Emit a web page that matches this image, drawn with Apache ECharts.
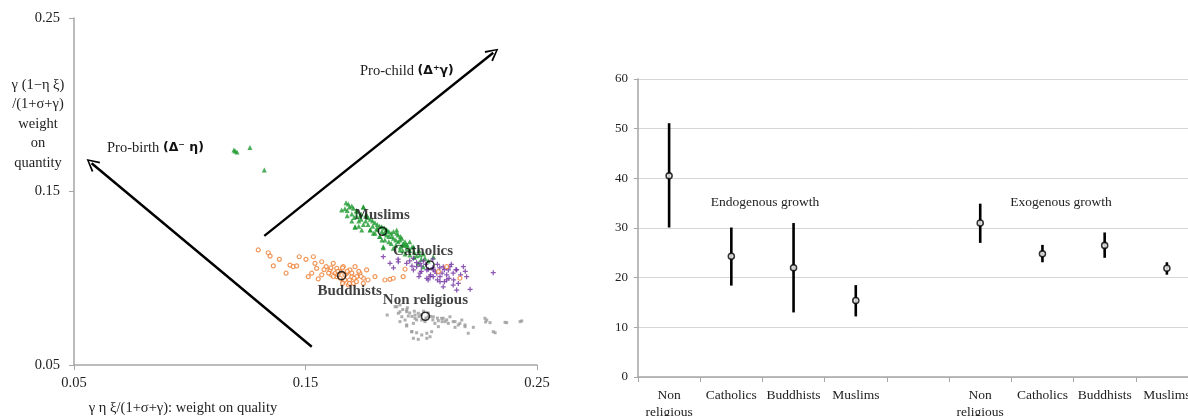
<!DOCTYPE html>
<html><head><meta charset="utf-8">
<script src="https://cdn.jsdelivr.net/npm/echarts@6/dist/echarts.min.js"></script>
<style>html,body{margin:0;padding:0;background:#fff}#c{width:1188px;height:416px}</style>
</head><body><div id="c"></div>
<script>
// ---------- Left panel data ----------
const xTicksLeft = [0.05, 0.15, 0.25];
const muslimsPts = [[0.1191,0.1739],[0.1204,0.1728],[0.1196,0.1733],[0.1260,0.1754],[0.1322,0.1624],
 [0.1675,0.1435],[0.1685,0.1428],[0.1700,0.1416],[0.1656,0.1393],[0.1707,0.1403],[0.1721,0.1384],[0.1750,0.1409],
 [0.1735,0.1355],[0.1764,0.1365],[0.1714,0.1297],[0.1743,0.1278],[0.1779,0.1278],[0.1808,0.1288],[0.1829,0.1297],
 [0.1851,0.1278],[0.1793,0.1259],[0.1822,0.1240],[0.1843,0.1220],[0.1872,0.1240],[0.1894,0.1259],[0.1908,0.1220],
 [0.1922,0.1201],[0.1937,0.1192],[0.1966,0.1182],[0.1836,0.1182],[0.1879,0.1173],[0.1908,0.1163],[0.1951,0.1134],
 [0.1995,0.1134],[0.2016,0.1115],[0.2052,0.1124],[0.1987,0.1086],[0.2009,0.1067],[0.1750,0.1412],[0.1714,0.1294],
 [0.1836,0.1176],[0.1894,0.1278],[0.1916,0.1230],[0.1930,0.1192],
 [0.168,0.139],[0.170,0.137],[0.172,0.136],[0.174,0.134],[0.176,0.133],[0.177,0.131],[0.179,0.130],[0.181,0.128],
 [0.183,0.127],[0.184,0.126],[0.185,0.125],[0.186,0.124],[0.188,0.123],[0.189,0.122],[0.190,0.121],[0.192,0.119],
 [0.194,0.117],[0.195,0.116],[0.197,0.115],[0.198,0.113],[0.180,0.126],[0.182,0.124],[0.178,0.128],[0.175,0.131],
 [0.173,0.133],[0.171,0.135],[0.187,0.126],[0.189,0.119],[0.191,0.124],[0.193,0.121],[0.196,0.118],[0.186,0.121],
 [0.184,0.129],[0.179,0.133],[0.176,0.136],[0.169,0.141],[0.167,0.140],[0.172,0.139],[0.178,0.134],[0.181,0.131],
 [0.185,0.128],[0.188,0.127],[0.191,0.118],[0.194,0.119],[0.199,0.116],[0.200,0.111],[0.203,0.110],
 [0.174,0.137],[0.177,0.135],[0.180,0.132],[0.182,0.130],[0.183,0.122],[0.187,0.120],[0.190,0.125],[0.192,0.116],
 [0.195,0.121],[0.197,0.112],[0.201,0.114],[0.170,0.133],[0.168,0.136],[0.173,0.130],[0.186,0.127],[0.193,0.114]];
const catholicsPts = [[0.1836,0.1124],[0.1865,0.1086],[0.1901,0.1095],[0.1937,0.1086],[0.1966,0.1115],[0.1980,0.1067],
 [0.1995,0.1086],[0.2024,0.1048],[0.2052,0.1048],[0.2067,0.1029],[0.2081,0.1009],[0.2052,0.1009],[0.2095,0.1067],
 [0.2117,0.1048],[0.2138,0.1029],[0.2124,0.1067],[0.2153,0.1048],[0.2182,0.1067],[0.2196,0.1009],[0.2138,0.0961],
 [0.2153,0.0932],[0.2211,0.0936],[0.2110,0.0990],[0.2081,0.0980],[0.2038,0.1009],[0.2024,0.1000],[0.1995,0.1029],
 [0.1966,0.1048],[0.2095,0.0951],[0.2311,0.1032],
 [0.200,0.107],[0.202,0.108],[0.205,0.106],[0.207,0.108],[0.203,0.105],[0.206,0.104],[0.209,0.103],[0.211,0.102],
 [0.201,0.110],[0.198,0.109],[0.204,0.102],[0.208,0.106],[0.212,0.100],[0.214,0.099],[0.210,0.105],[0.196,0.107],
 [0.195,0.110],[0.217,0.102],[0.219,0.104],[0.190,0.111],[0.188,0.106],[0.200,0.104],[0.207,0.099],[0.216,0.097],
 [0.213,0.108],[0.205,0.111],[0.203,0.099],[0.199,0.101],[0.210,0.098],[0.215,0.105]];
const buddhistsPts = [[0.1296,0.1163],[0.1339,0.1147],[0.1347,0.1128],[0.1361,0.1071],[0.1387,0.1109],[0.1416,0.1029],
 [0.1433,0.1076],[0.1447,0.1067],[0.1462,0.1071],[0.1473,0.1124],[0.1502,0.1109],[0.1534,0.1124],[0.1541,0.1086],
 [0.1548,0.1057],[0.1527,0.1029],[0.1570,0.1095],[0.1589,0.1067],[0.1606,0.1048],[0.1620,0.1086],[0.1635,0.1057],
 [0.1649,0.1038],[0.1663,0.1067],[0.1678,0.1029],[0.1692,0.1048],[0.1700,0.1009],[0.1714,0.1067],[0.1721,0.1009],
 [0.1735,0.1029],[0.1750,0.1000],[0.1764,0.1048],[0.1635,0.1009],[0.1613,0.1019],[0.1663,0.0980],[0.1685,0.0961],
 [0.1707,0.0971],[0.1800,0.1009],[0.1843,0.0990],[0.1865,0.0994],[0.1879,0.1000],[0.1922,0.1009],[0.1930,0.1052],
 [0.2110,0.1067],[0.2167,0.1000],[0.1555,0.0996],[0.1512,0.1009],[0.2074,0.1038],
 [0.163,0.103],[0.165,0.100],[0.167,0.102],[0.169,0.099],[0.171,0.100],[0.164,0.104],[0.162,0.101],[0.166,0.097],
 [0.168,0.104],[0.172,0.098],[0.174,0.101],[0.160,0.103],[0.158,0.105],[0.170,0.103],[0.175,0.097],[0.177,0.099],
 [0.161,0.106],[0.157,0.102],[0.166,0.106],[0.173,0.104],[0.167,0.099],[0.169,0.097],[0.164,0.102]];
const nonReligiousPts = [[0.1853,0.0788],[0.1937,0.0725],[0.1959,0.0692],[0.1980,0.0686],[0.2002,0.0673],[0.2024,0.0683],
 [0.2045,0.0692],[0.2074,0.0721],[0.2117,0.0740],[0.2146,0.0750],[0.2175,0.0759],[0.2189,0.0731],[0.2203,0.0683],
 [0.2225,0.0717],[0.2275,0.0769],[0.2278,0.0748],[0.2319,0.0686],[0.2362,0.0746],[0.2427,0.0750],[0.2124,0.0778],
 [0.2088,0.0769],[0.2059,0.0740],[0.1966,0.0740],[0.1930,0.0759],[0.1901,0.0798],[0.1916,0.0778],[0.1944,0.0782],
 [0.1973,0.0769],[0.2002,0.0759],[0.2030,0.0778],[0.1887,0.0836],[0.1908,0.0846],[0.1937,0.0817],[0.1987,0.0798],
 [0.2016,0.0750],[0.2074,0.0755],[0.2103,0.0750],[0.2160,0.0731],[0.2146,0.0717],[0.2283,0.0759],[0.2297,0.0744],
 [0.2369,0.0744],[0.2434,0.0754],[0.2311,0.0692],[0.1966,0.0654],[0.1987,0.0648],[0.2024,0.0654],[0.2038,0.0663],
 [0.1959,0.0692],[0.1894,0.0836],[0.1908,0.0807],[0.1937,0.0807],[0.1973,0.0788],[0.2052,0.0778],[0.2095,0.0769],
 [0.2138,0.0750],[0.2167,0.0740],[0.2189,0.0721],[0.1937,0.0731],[0.1908,0.0750],
 [0.200,0.079],[0.202,0.077],[0.199,0.078],[0.203,0.080],[0.205,0.076],[0.197,0.081],[0.195,0.080],[0.201,0.081],
 [0.204,0.078],[0.207,0.077],[0.196,0.078],[0.198,0.076],[0.192,0.082],[0.194,0.083],[0.209,0.075],[0.211,0.076]];
const centerNames = ['Muslims','Catholics','Buddhists','Non religious'];
const centerX = [0.1832, 0.2038, 0.1656, 0.2018];
const centerY = [0.1271, 0.1076, 0.1015, 0.0781];
const arrowProBirth = [[0.1527,0.0605],[0.0576,0.1663]];
const arrowProChild = [[0.1322,0.1244],[0.2311,0.2300]];

// ---------- Right panel data ----------
const growthCats = ['Non\nreligious','Catholics','Buddhists','Muslims','','Non\nreligious','Catholics','Buddhists','Muslims'];
const endoMid = [40.5, 24.3, 22.0, 15.4];
const endoLow = [30.1, 18.4, 13.0, 12.2];
const endoHigh = [51.1, 30.1, 31.0, 18.5];
const exoMid = [31.0, 24.8, 26.5, 21.9];
const exoLow = [27.0, 23.1, 24.0, 20.6];
const exoHigh = [34.9, 26.6, 29.1, 23.1];

const SERIF = '"Liberation Serif","DejaVu Serif",serif';
const endoIdx = [0,1,2,3], exoIdx = [5,6,7,8];
const errData = [], midData = [];
endoIdx.forEach((c,i)=>{errData.push([c,endoLow[i],endoHigh[i]]); midData.push([c,endoMid[i]]);});
exoIdx.forEach((c,i)=>{errData.push([c,exoLow[i],exoHigh[i]]); midData.push([c,exoMid[i]]);});

const chart = echarts.init(document.getElementById('c'), null, {renderer:'canvas'});
const axisGray = '#a6a6a6';
const labelStyle = {color:'#222', fontFamily:SERIF, fontSize:14.5};
const small = (sym,size,extra)=>Object.assign({type:'scatter', xAxisIndex:0, yAxisIndex:0, symbol:sym, symbolSize:size, silent:true, z:2}, extra||{});
const chevron = 'path://M0,10 L5,0 L10,10 L8.8,10.8 L5,2.6 L1.2,10.8 Z';
const labelPos = [
  {position:'top', offset:[0,0]},
  {position:'top', offset:[-7,2]},
  {position:'bottom', offset:[8,-1]},
  {position:'top', offset:[0,0]}
];

chart.setOption({
  animation:false,
  grid:[{left:74, top:18, width:463, height:347, containLabel:false, outerBoundsMode:'none'},
        {left:638, top:79, width:560, height:298, containLabel:false, outerBoundsMode:'none'}],
  xAxis:[
    {type:'value', gridIndex:0, min:0.05, max:0.25, interval:0.1, splitLine:{show:false},
     axisLine:{lineStyle:{color:axisGray, width:1.5}}, axisTick:{show:true, length:5, lineStyle:{color:axisGray}},
     axisLabel:Object.assign({formatter:v=>v.toFixed(2), margin:11}, labelStyle)},
    {type:'category', gridIndex:1, data:growthCats, boundaryGap:true,
     axisLine:{lineStyle:{color:axisGray, width:1.5}}, axisTick:{show:true, length:5, interval:0, lineStyle:{color:axisGray}},
     axisLabel:Object.assign({interval:0, margin:10, lineHeight:17}, labelStyle, {fontSize:13.5})}
  ],
  yAxis:[
    {type:'value', gridIndex:0, min:0.05, max:0.25, interval:0.1, splitLine:{show:false},
     axisLine:{show:true, lineStyle:{color:axisGray, width:1.5}}, axisTick:{show:true, length:5, lineStyle:{color:axisGray}},
     axisLabel:Object.assign({formatter:v=>v.toFixed(2), margin:14}, labelStyle)},
    {type:'value', gridIndex:1, min:0, max:60, interval:10,
     splitLine:{show:true, lineStyle:{color:'#d6d6d6', width:1}},
     axisLine:{show:true, lineStyle:{color:axisGray, width:1.5}}, axisTick:{show:true, length:4, lineStyle:{color:axisGray}},
     axisLabel:Object.assign({margin:10}, labelStyle, {fontSize:13})}
  ],
  series:[
    small('path://M0,10 L5,0 L10,10 Z', 5, {name:'Muslims', data:muslimsPts, itemStyle:{color:'#1e9a2f'}}),
    small('path://M3,0H5V3H8V5H5V8H3V5H0V3H3Z', 5, {name:'Catholics', data:catholicsPts, itemStyle:{color:'#7030a0'}}),
    small('circle', 4, {name:'Buddhists', data:buddhistsPts, itemStyle:{color:'#fff', borderColor:'#ed7d31', borderWidth:1.2}}),
    small('rect', 3, {name:'Non religious', data:nonReligiousPts, itemStyle:{color:'#9a9a9a'}}),
    {type:'scatter', xAxisIndex:0, yAxisIndex:0, symbol:'circle', symbolSize:8, z:5, silent:true,
     itemStyle:{color:'rgba(255,255,255,0)', borderColor:'#000', borderWidth:1.6},
     data:centerNames.map((n,i)=>({value:[centerX[i],centerY[i]], name:n, label:labelPos[i]})),
     label:{show:true, formatter:p=>p.name, fontFamily:SERIF, fontWeight:'bold', fontSize:15, color:'#111', distance:4}
    },
    {type:'lines', coordinateSystem:'cartesian2d', xAxisIndex:0, yAxisIndex:0, z:6, silent:true,
     symbol:['none', chevron], symbolSize:[13,13],
     lineStyle:{color:'#000', width:2.4, opacity:1},
     data:[{coords:arrowProBirth},{coords:arrowProChild}]},
    {type:'custom', xAxisIndex:1, yAxisIndex:1, silent:true, z:3,
     renderItem:(params, api)=>{
       const a = api.coord([api.value(0), api.value(1)]);
       const b = api.coord([api.value(0), api.value(2)]);
       return {type:'line', shape:{x1:a[0], y1:a[1], x2:b[0], y2:b[1]}, style:{stroke:'#000', lineWidth:2.6}};
     },
     encode:{x:0, y:[1,2]}, data:errData},
    {type:'scatter', xAxisIndex:1, yAxisIndex:1, symbol:'circle', symbolSize:6, z:4, silent:true,
     itemStyle:{color:'#fff', borderColor:'#000', borderWidth:1.6}, data:midData}
  ],
  graphic:[
    {type:'text', position:[38,124], style:{text:'γ (1−η ξ)\n/(1+σ+γ)\nweight\non\nquantity',
      align:'center', verticalAlign:'middle', font:'14.5px '+SERIF, fill:'#222', lineHeight:19.5}},
    {type:'text', position:[183,408], style:{text:'γ η ξ/(1+σ+γ): weight on quality', align:'center', verticalAlign:'middle',
      font:'14.5px '+SERIF, fill:'#222'}},
    {type:'text', position:[107,148], style:{text:'{n|Pro-birth }{b|(Δ⁻ η)}', verticalAlign:'middle',
      rich:{n:{fontFamily:SERIF, fontSize:14.5, fill:'#222'}, b:{fontFamily:'"DejaVu Sans",sans-serif', fontWeight:'bold', fontSize:12.5, fill:'#111'}}}},
    {type:'text', position:[360,71], style:{text:'{n|Pro-child }{b|(Δ⁺γ)}', verticalAlign:'middle',
      rich:{n:{fontFamily:SERIF, fontSize:14.5, fill:'#222'}, b:{fontFamily:'"DejaVu Sans",sans-serif', fontWeight:'bold', fontSize:12.5, fill:'#111'}}}},
    {type:'text', position:[765,202], style:{text:'Endogenous growth', align:'center', verticalAlign:'middle', font:'13.5px '+SERIF, fill:'#222'}},
    {type:'text', position:[1061,202], style:{text:'Exogenous growth', align:'center', verticalAlign:'middle', font:'13.5px '+SERIF, fill:'#222'}}
  ]
});
</script></body></html>
